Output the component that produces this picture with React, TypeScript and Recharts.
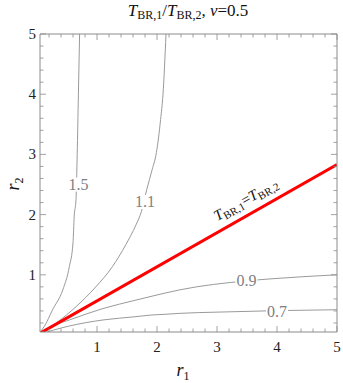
import {
  ComposedChart,
  Line,
  XAxis,
  YAxis,
  ReferenceDot,
} from "recharts";

// contour lines of T_BR,1 / T_BR,2 (r1, r2)
const contour15 = [
  { r1: 0, r2: 0 },
  { r1: 0.12, r2: 0.14 },
  { r1: 0.26, r2: 0.42 },
  { r1: 0.43, r2: 0.75 },
  { r1: 0.54, r2: 1.14 },
  { r1: 0.6, r2: 1.53 },
  { r1: 0.62, r2: 1.97 },
  { r1: 0.65, r2: 2.25 },
  { r1: 0.67, r2: 3 },
  { r1: 0.69, r2: 4 },
  { r1: 0.71, r2: 5 },
];

const contour11 = [
  { r1: 0, r2: 0 },
  { r1: 0.32, r2: 0.2 },
  { r1: 0.65, r2: 0.47 },
  { r1: 0.98, r2: 0.8 },
  { r1: 1.26, r2: 1.14 },
  { r1: 1.48, r2: 1.5 },
  { r1: 1.65, r2: 1.83 },
  { r1: 1.74, r2: 2.05 },
  { r1: 1.83, r2: 2.42 },
  { r1: 1.92, r2: 2.75 },
  { r1: 1.99, r2: 3.03 },
  { r1: 2.06, r2: 3.58 },
  { r1: 2.1, r2: 4 },
  { r1: 2.15, r2: 5 },
];

const contour09 = [
  { r1: 0, r2: 0 },
  { r1: 0.26, r2: 0.15 },
  { r1: 0.54, r2: 0.25 },
  { r1: 1.1, r2: 0.44 },
  { r1: 1.65, r2: 0.58 },
  { r1: 2.15, r2: 0.7 },
  { r1: 2.38, r2: 0.75 },
  { r1: 3.5, r2: 0.9 },
  { r1: 4, r2: 0.94 },
  { r1: 5, r2: 1.0 },
];

const contour07 = [
  { r1: 0, r2: 0 },
  { r1: 0.54, r2: 0.15 },
  { r1: 1.1, r2: 0.25 },
  { r1: 1.65, r2: 0.305 },
  { r1: 1.88, r2: 0.33 },
  { r1: 2.15, r2: 0.345 },
  { r1: 2.38, r2: 0.36 },
  { r1: 3, r2: 0.38 },
  { r1: 4, r2: 0.405 },
  { r1: 5, r2: 0.42 },
];

// T_BR,1 = T_BR,2
const equalLine = [
  { r1: 0, r2: 0 },
  { r1: 5, r2: 2.83 },
];

const contourLabels = [
  { r1: 0.69, r2: 2.5, text: "1.5" },
  { r1: 1.8, r2: 2.21, text: "1.1" },
  { r1: 3.49, r2: 0.9, text: "0.9" },
  { r1: 4.0, r2: 0.39, text: "0.7" },
];

const majorTicks = [1, 2, 3, 4, 5];
const allTicks = Array.from({ length: 25 }, (_, i) => +(0.2 * (i + 1)).toFixed(1));

const FONT = "Liberation Serif, Times New Roman, Times, DejaVu Serif, serif";
const FRAME = "#8c8c8c";

const isMajor = (v: number) => majorTicks.includes(v);

const BottomTick = (props: any) => {
  const { x, y, payload } = props;
  const len = isMajor(payload.value) ? 6 : 3.5;
  return (
    <g>
      <line x1={x} x2={x} y1={y} y2={y - len} stroke={FRAME} strokeWidth={0.8} />
      {isMajor(payload.value) && (
        <text x={x} y={y + 20} textAnchor="middle" fontSize={15} style={{ fontFamily: FONT }} fill="#222">
          {payload.value}
        </text>
      )}
    </g>
  );
};

const TopTick = (props: any) => {
  const { x, y, payload } = props;
  const len = isMajor(payload.value) ? 6 : 3.5;
  return <line x1={x} x2={x} y1={y} y2={y + len} stroke={FRAME} strokeWidth={0.8} />;
};

const LeftTick = (props: any) => {
  const { x, y, payload } = props;
  const len = isMajor(payload.value) ? 6 : 3.5;
  return (
    <g>
      <line x1={x} x2={x + len} y1={y} y2={y} stroke={FRAME} strokeWidth={0.8} />
      {isMajor(payload.value) && (
        <text x={x - 4} y={y + 5} textAnchor="end" fontSize={15} style={{ fontFamily: FONT }} fill="#222">
          {payload.value}
        </text>
      )}
    </g>
  );
};

const RightTick = (props: any) => {
  const { x, y, payload } = props;
  const len = isMajor(payload.value) ? 6 : 3.5;
  return <line x1={x} x2={x - len} y1={y} y2={y} stroke={FRAME} strokeWidth={0.8} />;
};

const ContourLabel = (text: string) => (props: any) => {
  const { cx, cy } = props;
  return (
    <g>
      <rect x={cx - 11} y={cy - 7} width={22} height={14} fill="#fff" />
      <text x={cx} y={cy + 5.5} textAnchor="middle" fontSize={16} style={{ fontFamily: FONT }} fill="#808080">
        {text}
      </text>
    </g>
  );
};

const EqualLabel = (props: any) => {
  const { cx, cy } = props;
  return (
    <text
      x={cx}
      y={cy}
      textAnchor="middle"
      fontSize={15}
      style={{ fontFamily: FONT }}
      fill="#111"
      transform={`rotate(-29.5 ${cx} ${cy})`}
    >
      <tspan fontStyle="italic">T</tspan>
      <tspan fontSize={11} dy={3}>BR,1</tspan>
      <tspan dy={-3}>=</tspan>
      <tspan fontStyle="italic">T</tspan>
      <tspan fontSize={11} dy={3}>BR,2</tspan>
    </text>
  );
};

const series = [contour15, contour11, contour09, contour07];

export default function App() {
  return (
    <div style={{ position: "absolute", left: 0, top: 0, width: 343, height: 383, background: "#fff", fontFamily: FONT }}>
      <div style={{ position: "absolute", left: 188, top: 1, transform: "translateX(-50%)", whiteSpace: "nowrap", fontSize: 17, lineHeight: "20px", color: "#111" }}>
        <i>T</i>
        <span style={{ fontSize: 12, position: "relative", top: 3 }}>BR,1</span>/<i>T</i>
        <span style={{ fontSize: 12, position: "relative", top: 3 }}>BR,2</span>, <i>ν</i>=0.5
      </div>
      <div style={{ position: "absolute", left: 183, top: 360, transform: "translateX(-50%)", whiteSpace: "nowrap", fontSize: 18, lineHeight: "20px", color: "#111" }}>
        <i>r</i>
        <span style={{ fontSize: 12, position: "relative", top: 4 }}>1</span>
      </div>
      <div style={{ position: "absolute", left: 14, top: 184, transform: "translate(-50%, -50%) rotate(-90deg)", whiteSpace: "nowrap", fontSize: 18, lineHeight: "20px", color: "#111" }}>
        <i>r</i>
        <span style={{ fontSize: 12, position: "relative", top: 4 }}>2</span>
      </div>
      <ComposedChart width={343} height={383} margin={{ top: 33, right: 5, bottom: 21, left: 10 }} style={{ position: "absolute", left: 0, top: 0 }}>
        <XAxis
          xAxisId="b"
          dataKey="r1"
          type="number"
          domain={[0.05, 5]}
          allowDataOverflow
          ticks={allTicks}
          interval={0}
          orientation="bottom"
          height={30}
          tickSize={0}
          tickMargin={0}
          tickLine={false}
          axisLine={{ stroke: FRAME }}
          tick={<BottomTick />}
        />
        <XAxis
          xAxisId="t"
          dataKey="r1"
          type="number"
          domain={[0.05, 5]}
          allowDataOverflow
          ticks={allTicks}
          interval={0}
          orientation="top"
          height={1}
          tickSize={0}
          tickMargin={0}
          tickLine={false}
          axisLine={{ stroke: FRAME }}
          tick={<TopTick />}
        />
        <YAxis
          yAxisId="l"
          type="number"
          domain={[0.05, 5]}
          allowDataOverflow
          ticks={allTicks}
          interval={0}
          orientation="left"
          width={30}
          tickSize={0}
          tickMargin={0}
          tickLine={false}
          axisLine={{ stroke: FRAME }}
          tick={<LeftTick />}
        />
        <YAxis
          yAxisId="r"
          type="number"
          domain={[0.05, 5]}
          allowDataOverflow
          ticks={allTicks}
          interval={0}
          orientation="right"
          width={1}
          tickSize={0}
          tickMargin={0}
          tickLine={false}
          axisLine={{ stroke: FRAME }}
          tick={<RightTick />}
        />
        {series.map((d, i) => (
          <Line
            key={i}
            data={d}
            dataKey="r2"
            xAxisId="b"
            yAxisId="l"
            type="monotone"
            stroke="#9a9a9a"
            strokeWidth={1}
            dot={false}
            activeDot={false}
            isAnimationActive={false}
          />
        ))}
        <Line
          data={equalLine}
          dataKey="r2"
          xAxisId="b"
          yAxisId="l"
          type="linear"
          stroke="#ff0000"
          strokeWidth={3}
          dot={false}
          activeDot={false}
          isAnimationActive={false}
        />
        {contourLabels.map((l) => (
          <ReferenceDot
            key={l.text}
            x={l.r1}
            y={l.r2}
            xAxisId="b"
            yAxisId="l"
            shape={ContourLabel(l.text)}
          />
        ))}
        <ReferenceDot x={3.52} y={2.18} xAxisId="b" yAxisId="l" shape={EqualLabel} />
      </ComposedChart>
    </div>
  );
}
